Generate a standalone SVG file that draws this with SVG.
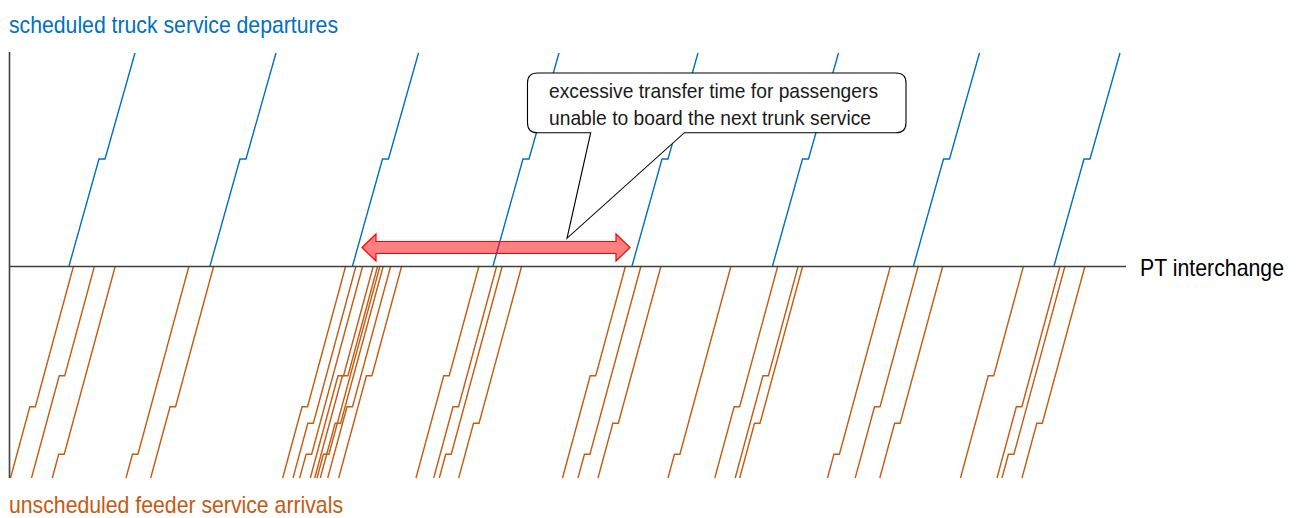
<svg xmlns="http://www.w3.org/2000/svg" xmlns:xlink="http://www.w3.org/1999/xlink" width="1300" height="518" viewBox="0 0 1300 518">
<style>
.txt{font-family:"Liberation Sans Narrow","Liberation Sans",Arial,sans-serif;font-stretch:condensed}
.blue{fill:none;stroke:#0070C0;stroke-width:1.4;stroke-linejoin:miter}
.orange{fill:none;stroke:#C55A11;stroke-width:1.4;stroke-linejoin:miter}
.axis{fill:none;stroke:#404040;stroke-width:1.6}
</style>
<defs>
<path id="b" d="M0,266 L30,159 L36,159 L66,53"/>
<path id="o376" d="M-63,478 L-35.26,375.7 L-29.76,375.7 L0,266"/>
<path id="o406" d="M-63,478 L-43.66,406.7 L-38.16,406.7 L0,266"/>
<path id="o423" d="M-63,478 L-48.17,423.3 L-42.67,423.3 L0,266"/>
<path id="o454" d="M-63,478 L-56.57,454.3 L-51.07,454.3 L0,266"/>
</defs>
<rect width="1300" height="518" fill="#ffffff"/>
<g id="departures" class="blue">
<use href="#b" x="69"/>
<use href="#b" x="210"/>
<use href="#b" x="352.5"/>
<use href="#b" x="493"/>
<use href="#b" x="632"/>
<use href="#b" x="772.5"/>
<use href="#b" x="913.5"/>
<use href="#b" x="1054"/>
</g>
<g id="arrivals" class="orange">
<use href="#o406" x="73.5"/>
<use href="#o376" x="94.5"/>
<use href="#o454" x="115.3"/>
<use href="#o454" x="189"/>
<use href="#o406" x="213.7"/>
<use href="#o406" x="345.7"/>
<use href="#o423" x="356"/>
<use href="#o454" x="362.7"/>
<use href="#o376" x="373.3"/>
<use href="#o376" x="377.7"/>
<use href="#o454" x="380"/>
<use href="#o423" x="383.3"/>
<use href="#o406" x="390.7"/>
<use href="#o376" x="401.7"/>
<use href="#o376" x="479"/>
<use href="#o406" x="496.7"/>
<use href="#o454" x="502.3"/>
<use href="#o423" x="521.7"/>
<use href="#o376" x="625.5"/>
<use href="#o454" x="641"/>
<use href="#o423" x="661"/>
<use href="#o454" x="731"/>
<use href="#o406" x="777.8"/>
<use href="#o376" x="798.2"/>
<use href="#o423" x="802.7"/>
<use href="#o454" x="890.5"/>
<use href="#o406" x="918.2"/>
<use href="#o423" x="942.8"/>
<use href="#o376" x="1023.5"/>
<use href="#o406" x="1060"/>
<use href="#o454" x="1065"/>
<use href="#o423" x="1085"/>
</g>
<g id="axes" class="axis">
<line x1="9.5" y1="52" x2="9.5" y2="478"/>
<line x1="9" y1="266.5" x2="1126" y2="266.5"/>
</g>
<g id="callout">
<path d="M537.5,73 H896 Q906,73 906,83 V122.7 Q906,132.7 896,132.7 H684.4 L567,238.3 L590.7,132.7 H537.5 Q527.5,132.7 527.5,122.7 V83 Q527.5,73 537.5,73 Z" fill="#ffffff" stroke="#000000" stroke-width="1.1"/>
<text class="txt" x="549" y="98" font-size="21" fill="#1a1a1a" textLength="329" lengthAdjust="spacingAndGlyphs">excessive transfer time for passengers</text>
<text class="txt" x="549" y="124.5" font-size="21" fill="#1a1a1a" textLength="322" lengthAdjust="spacingAndGlyphs">unable to board the next trunk service</text>
</g>
<g id="transfer-gap">
<path d="M362,247.5 L376,234 V241.5 H616 V234 L630,247.5 L616,261 V253.5 H376 V261 Z" fill="#ff0000" fill-opacity="0.5" stroke="#ff0000" stroke-width="1.2" stroke-linejoin="miter"/>
</g>
<g id="labels">
<text class="txt" x="9" y="33" font-size="24" fill="#0070C0" textLength="329" lengthAdjust="spacingAndGlyphs">scheduled truck service departures</text>
<text class="txt" x="9" y="513" font-size="24" fill="#C55A11" textLength="334" lengthAdjust="spacingAndGlyphs">unscheduled feeder service arrivals</text>
<text class="txt" x="1140" y="275.5" font-size="24" fill="#000000" textLength="144" lengthAdjust="spacingAndGlyphs">PT interchange</text>
</g>
</svg>
